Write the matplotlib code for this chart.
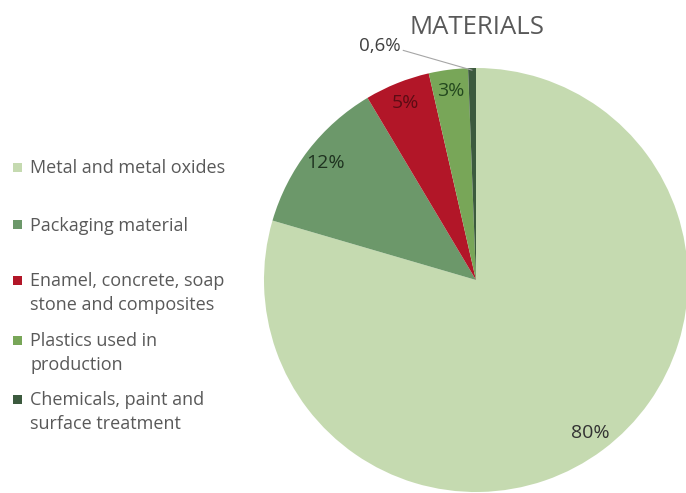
import matplotlib
matplotlib.use("Agg")
import numpy as np
import matplotlib.pyplot as plt
from matplotlib.patches import Rectangle

plt.rcParams["font.family"] = ["Open Sans", "DejaVu Sans"]

# Material shares (percent), clockwise from the top
categories = [
    "Metal and metal oxides",
    "Packaging material",
    "Enamel, concrete, soap\nstone and composites",
    "Plastics used in\nproduction",
    "Chemicals, paint and\nsurface treatment",
]
shares = [80, 12, 5, 3, 0.6]
colors = ["#c5dab0", "#6c986a", "#b21628", "#78a658", "#3c5a3e"]
label_colors = ["#333333", "#1f3320", "#5c0c14", "#24491f", "#404040"]


def pct_text(v):
    return f"{v:g}".replace(".", ",") + "%"


W, H = 686, 493
fig = plt.figure(figsize=(W / 100, H / 100), dpi=100)
fig.patch.set_facecolor("white")

# Pie axes placed in pixel units: centre (476, 280), radius 212
cx, cy, r = 476, 280, 212
ax = fig.add_axes([(cx - r) / W, (H - cy - r) / H, 2 * r / W, 2 * r / H])
wedges, _ = ax.pie(
    shares,
    colors=colors,
    startangle=90,
    counterclock=False,
    radius=1.0,
    wedgeprops=dict(linewidth=0),
)
ax.set_xlim(-1, 1)
ax.set_ylim(-1, 1)
ax.set_aspect("equal")
ax.axis("off")

for i, (w, v) in enumerate(zip(wedges, shares)):
    mid = np.deg2rad((w.theta1 + w.theta2) / 2)
    if v < 1:
        # small slice: label outside with a leader line
        ex, ey = 0.99 * np.cos(mid), 0.99 * np.sin(mid)
        ax.annotate(
            pct_text(v),
            xy=(ex, ey),
            xytext=(-0.455, 1.104),
            ha="center",
            va="center",
            fontsize=13.5,
            color=label_colors[i],
            annotation_clip=False,
            arrowprops=dict(arrowstyle="-", color="#a6a6a6", lw=0.8,
                            shrinkA=0, shrinkB=0, relpos=(1.0, 0.3)),
        )
    else:
        d = 0.9
        ax.text(d * np.cos(mid), d * np.sin(mid), pct_text(v),
                ha="center", va="center", fontsize=14, color=label_colors[i])

# Title
fig.text(477 / W, 1 - 28 / H, "MATERIALS", ha="center", va="center",
         fontsize=18.5, color="#595959")

# Legend at the left; marker centre rows in pixels, lines 24 px apart
legend_rows = [167, 225, 280, 340, 399]
for cat, col, y in zip(categories, colors, legend_rows):
    fig.patches.append(Rectangle((13 / W, 1 - (y + 4.5) / H), 9 / W, 9 / H,
                                 transform=fig.transFigure, facecolor=col,
                                 edgecolor="none"))
    for k, line in enumerate(cat.split("\n")):
        fig.text(30 / W, 1 - (y + 6 + 24 * k) / H, line, ha="left",
                 va="baseline", fontsize=13, color="#595959")

fig.savefig("out.png", dpi=100)
